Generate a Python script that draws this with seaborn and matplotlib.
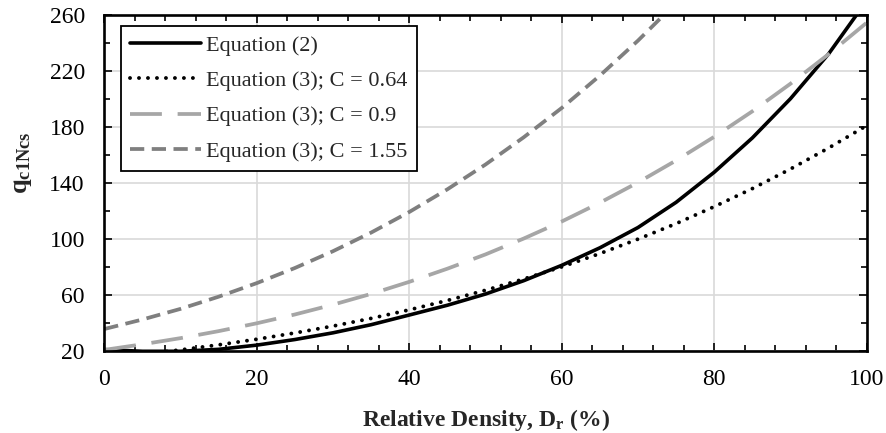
import matplotlib
matplotlib.use("Agg")
import matplotlib.pyplot as plt
from matplotlib.ticker import MultipleLocator, FixedLocator
import seaborn as sns
import pandas as pd

# values, every 5 % of relative density
dr = [0, 5, 10, 15, 20, 25, 30, 35, 40, 45, 50, 55, 60, 65, 70, 75, 80, 85, 90, 95, 100]
eq2 = [20.8, 19.6, 19.6, 21.0, 24.0, 28.0, 32.8, 38.6, 45.5, 52.5, 60.5, 70.0, 81.0,
       93.5, 108.0, 126.0, 147.5, 172.0, 200.0, 232.0, 270.0]
c064 = [14.7, 17.5, 20.6, 24.2, 28.2, 32.7, 37.6, 43.1, 49.2, 55.9, 63.2, 71.2, 79.9,
        89.4, 99.7, 110.8, 122.9, 135.8, 149.8, 164.8, 180.8]
c090 = [20.6, 24.6, 29.0, 34.0, 39.6, 45.9, 52.9, 60.6, 69.2, 78.6, 88.8, 100.1, 112.3,
        125.7, 140.2, 155.9, 172.8, 191.0, 210.7, 231.8, 254.3]
c155 = [35.5, 42.3, 49.9, 58.6, 68.3, 79.1, 91.1, 104.4, 119.1, 135.3, 153.0, 172.4, 193.4,
        216.5, 241.5, 268.5, 297.6, 329.0, 363.0, 399.0, 438.0]

labels = ["Equation (2)", "Equation (3); C = 0.64", "Equation (3); C = 0.9", "Equation (3); C = 1.55"]
y_major = [20, 60, 100, 140, 180, 220, 260]
y_minor = [40, 80, 120, 160, 200, 240]

df = pd.DataFrame({"dr": dr, labels[0]: eq2, labels[1]: c064, labels[2]: c090, labels[3]: c155})

sns.set_theme(style="white")
plt.rcParams["font.family"] = ["Liberation Serif", "DejaVu Serif"]
plt.rcParams["mathtext.fontset"] = "custom"
plt.rcParams["mathtext.rm"] = "Liberation Serif"
plt.rcParams["mathtext.bf"] = "Liberation Serif:bold"

fig = plt.figure(figsize=(8.87, 4.33), dpi=100)
ax = fig.add_axes([0.1176, 0.190, 0.8595, 0.776])

# line styles
styles = [
    dict(color="black", linestyle="-", linewidth=2.6),
    dict(color="black", linestyle=(0, (0.01, 2.3)), linewidth=2.8, dash_capstyle="round"),
    dict(color="#a6a6a6", linestyle=(0, (8.5, 4.2)), linewidth=2.7),
    dict(color="#7f7f7f", linestyle=(0, (3.8, 2.0)), linewidth=2.7),
]
for lab, st in zip(labels, styles):
    sns.lineplot(data=df, x="dr", y=lab, ax=ax, label=lab, **st)

ax.set_xlim(0, 100)
ax.set_ylim(20, 260)
ax.xaxis.set_major_locator(MultipleLocator(20))
ax.xaxis.set_minor_locator(MultipleLocator(4))
ax.yaxis.set_major_locator(FixedLocator(y_major))
ax.yaxis.set_minor_locator(FixedLocator(y_minor))

ax.grid(True, which="major", color="#d9d9d9", linewidth=1.2)
ax.set_axisbelow(True)
for sp in ax.spines.values():
    sp.set_visible(True)
    sp.set_color("black")
    sp.set_linewidth(1.9)

ax.tick_params(which="both", direction="in", top=True, right=True, bottom=True, left=True,
               colors="black", width=1.2, labelsize=17)
ax.tick_params(which="major", length=6)
ax.tick_params(which="minor", length=4.5)
ax.tick_params(axis="y", which="major", pad=14)
ax.tick_params(axis="x", which="major", pad=13)

ax.set_xlabel("Relative Density, $\\mathbf{D_r}$ (%)", fontsize=17, fontweight="bold")
ax.set_ylabel("$\\mathbf{q_{c1Ncs}}$", fontsize=19, fontweight="bold")
ax.xaxis.set_label_coords(0.5, -0.168)
ax.yaxis.set_label_coords(-0.092, 0.56)

leg = ax.legend(loc="upper left", bbox_to_anchor=(0.0219, 0.966), borderaxespad=0,
                fontsize=16, handlelength=3.2, handletextpad=0.22, labelspacing=0.66,
                borderpad=0.42, fancybox=False, framealpha=1, edgecolor="black")
leg.get_frame().set_linewidth(1.3)

fig.savefig("out.png", dpi=100)
